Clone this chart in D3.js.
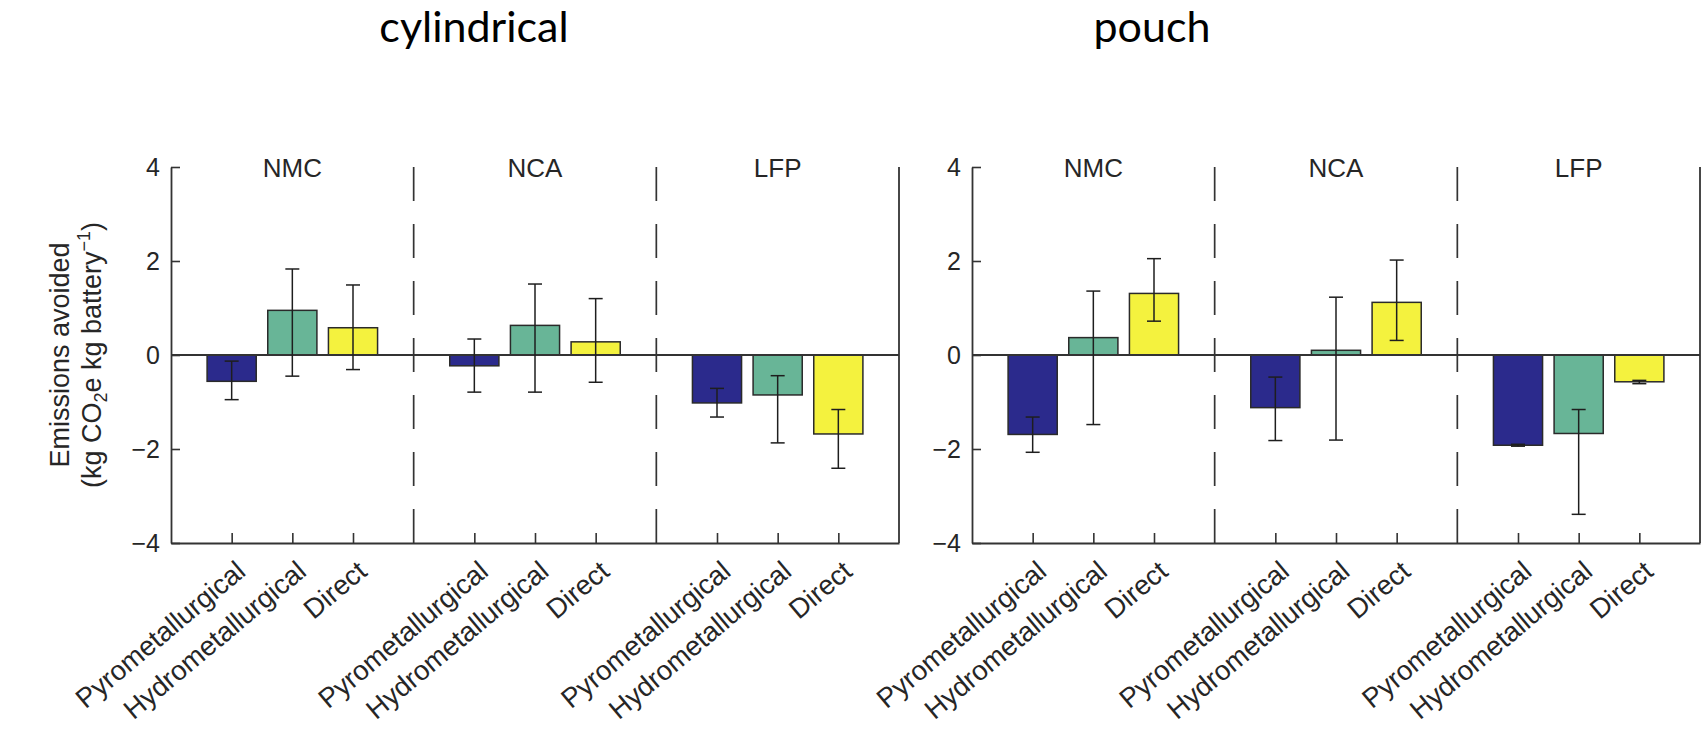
<!DOCTYPE html>
<html>
<head>
<meta charset="utf-8">
<script src="https://cdn.jsdelivr.net/npm/d3@7"></script>
<style>
  html, body { margin: 0; padding: 0; background: #fff; }
  svg { display: block; }
  .ax text { font-family: "Liberation Sans", Arial, sans-serif; fill: #262626; }
</style>
</head>
<body>
<svg id="chart" width="1704" height="737"></svg>
<script>
// Cell chemistries (groups) and recycling routes (bars within a group)
const chemistries = ["NMC", "NCA", "LFP"];
const routes = ["Pyrometallurgical", "Hydrometallurgical", "Direct"];
const routeColors = ["#2b2a8c", "#68b597", "#f4f23e"];
const yTicks = [-4, -2, 0, 2, 4];
const panelTitles = ["cylindrical", "pouch"];

// Emissions avoided (kg CO2e per kg battery), ordered NMC, NCA, LFP × route
const cylindricalMean = [-0.56, 0.95, 0.58,  -0.23, 0.63, 0.28,  -1.02, -0.85, -1.68];
const cylindricalLow  = [-0.95, -0.45, -0.31, -0.79, -0.79, -0.58, -1.32, -1.87, -2.41];
const cylindricalHigh = [-0.13, 1.83, 1.49,   0.34, 1.51, 1.20,   -0.71, -0.44, -1.16];

const pouchMean = [-1.69, 0.37, 1.31,  -1.12, 0.10, 1.12,  -1.92, -1.67, -0.57];
const pouchLow  = [-2.07, -1.48, 0.72, -1.82, -1.81, 0.31, -1.94, -3.39, -0.61];
const pouchHigh = [-1.32, 1.36, 2.05,  -0.47, 1.23, 2.02, -1.90, -1.16, -0.54];

const svg = d3.select("#chart");
const SANS = "'Liberation Sans', Arial, sans-serif";

const y = d3.scaleLinear().domain([-4, 4]).range([543, 167]);

function rows(mean, low, high) {
  const out = [];
  chemistries.forEach((c, ci) => routes.forEach((r, ri) => {
    const k = ci * routes.length + ri;
    out.push({ chem: c, route: r, ri, pos: ci * 4 + ri + 1, v: mean[k], lo: low[k], hi: high[k] });
  }));
  return out;
}

function panel(x0, x1, data) {
  // 12 slots: 3 bars + divider per chemistry
  const x = d3.scaleLinear().domain([0, 12]).range([x0, x1]);
  const unit = x(1) - x(0);
  const bw = unit * 0.81;
  const g = svg.append("g");

  // group dividers
  [4, 8].forEach(p => {
    g.append("line")
      .attr("x1", x(p)).attr("x2", x(p))
      .attr("y1", y(4)).attr("y2", y(-4))
      .attr("stroke", "#333").attr("stroke-width", 1.7)
      .attr("stroke-dasharray", "34,23");
  });

  // right border
  g.append("line")
    .attr("x1", x(12)).attr("x2", x(12))
    .attr("y1", y(4)).attr("y2", y(-4))
    .attr("stroke", "#333").attr("stroke-width", 1.8);

  // bars
  g.selectAll("rect.bar").data(data).join("rect")
    .attr("class", "bar")
    .attr("x", d => x(d.pos) - bw / 2)
    .attr("width", bw)
    .attr("y", d => y(Math.max(0, d.v)))
    .attr("height", d => Math.abs(y(d.v) - y(0)))
    .attr("fill", d => routeColors[d.ri])
    .attr("stroke", "#2a2a2a").attr("stroke-width", 1.5);

  // zero line
  g.append("line")
    .attr("x1", x(0)).attr("x2", x(12))
    .attr("y1", y(0)).attr("y2", y(0))
    .attr("stroke", "#333").attr("stroke-width", 1.8);

  // error bars
  const eb = g.selectAll("g.err").data(data).join("g").attr("class", "err")
    .attr("stroke", "#1e1e1e").attr("stroke-width", 1.5);
  eb.append("line")
    .attr("x1", d => x(d.pos)).attr("x2", d => x(d.pos))
    .attr("y1", d => y(d.lo)).attr("y2", d => y(d.hi));
  eb.append("line")
    .attr("x1", d => x(d.pos) - 7).attr("x2", d => x(d.pos) + 7)
    .attr("y1", d => y(d.lo)).attr("y2", d => y(d.lo));
  eb.append("line")
    .attr("x1", d => x(d.pos) - 7).attr("x2", d => x(d.pos) + 7)
    .attr("y1", d => y(d.hi)).attr("y2", d => y(d.hi));

  // y axis, ticks pointing inward
  const ya = g.append("g").attr("class", "ax")
    .attr("transform", `translate(${x0},0)`)
    .call(d3.axisLeft(y).tickValues(yTicks).tickSize(-9).tickSizeOuter(0).tickPadding(11)
      .tickFormat(d => d < 0 ? "\u2212" + Math.abs(d) : String(d)));
  ya.select(".domain").attr("stroke", "#333").attr("stroke-width", 1.8);
  ya.selectAll(".tick line").attr("stroke", "#333").attr("stroke-width", 1.6);
  ya.selectAll(".tick text").attr("font-size", 25);

  // x axis with route labels
  const ticks = data.map(d => d.pos);
  const xa = g.append("g").attr("class", "ax")
    .attr("transform", `translate(0,${y(-4)})`)
    .call(d3.axisBottom(x).tickValues(ticks).tickSize(-10).tickSizeOuter(0)
      .tickFormat((p, i) => data[i].route));
  xa.select(".domain").attr("stroke", "#333").attr("stroke-width", 1.8);
  xa.selectAll(".tick line").attr("stroke", "#333").attr("stroke-width", 1.6);
  xa.selectAll(".tick text")
    .attr("font-size", 27.5)
    .attr("text-anchor", "end")
    .attr("y", 0).attr("dy", 0)
    .attr("transform", "translate(15,31) rotate(-40)");

  // chemistry headers
  g.selectAll("text.chem").data(chemistries).join("text")
    .attr("class", "chem")
    .attr("x", (c, i) => x(i * 4 + 2))
    .attr("y", 177)
    .attr("text-anchor", "middle")
    .attr("font-family", SANS)
    .attr("font-size", 26)
    .attr("fill", "#262626")
    .text(c => c);
}

panel(171, 899, rows(cylindricalMean, cylindricalLow, cylindricalHigh));
panel(972, 1700, rows(pouchMean, pouchLow, pouchHigh));

// y-axis title (left panel only)
const yl = svg.append("text")
  .attr("transform", "translate(0,355) rotate(-90)")
  .attr("text-anchor", "middle")
  .attr("font-family", SANS)
  .attr("font-size", 27)
  .attr("fill", "#262626");
yl.append("tspan").attr("x", 0).attr("y", 69).text("Emissions avoided");
const l2 = yl.append("tspan").attr("x", 0).attr("y", 101);
l2.append("tspan").text("(kg CO");
l2.append("tspan").attr("font-size", 18).attr("dy", 6).text("2");
l2.append("tspan").attr("dy", -6).text("e kg battery");
l2.append("tspan").attr("font-size", 18).attr("dy", -11).text("\u22121");
l2.append("tspan").attr("dy", 11).text(")");

// panel titles
svg.selectAll("text.ptitle").data(panelTitles).join("text")
  .attr("class", "ptitle")
  .attr("x", (t, i) => [474, 1152][i])
  .attr("y", 42)
  .attr("text-anchor", "middle")
  .attr("font-family", "Lato, 'Open Sans', sans-serif")
  .attr("font-size", 43)
  .attr("fill", "#000")
  .text(t => t);
</script>
</body>
</html>
